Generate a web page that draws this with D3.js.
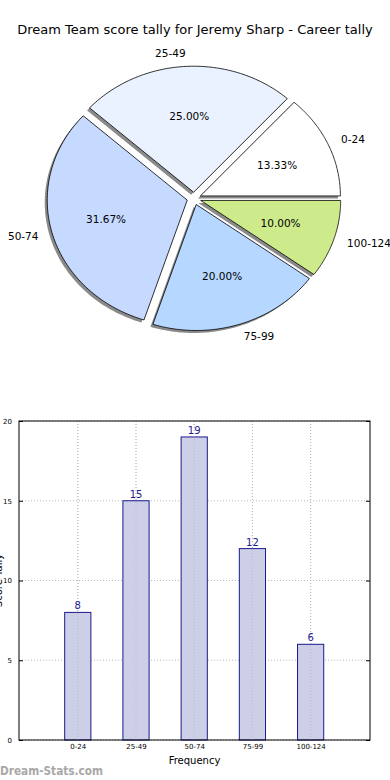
<!DOCTYPE html>
<html><head><meta charset="utf-8">
<script src="https://cdn.jsdelivr.net/npm/d3@7"></script>
<style>body{margin:0;background:#fff;}svg{display:block;font-family:"DejaVu Sans",sans-serif;}</style>
</head><body>
<svg id="c" width="390" height="780"></svg>
<script>
const title = "Dream Team score tally for Jeremy Sharp - Career tally";
const categories = ["0-24","25-49","50-74","75-99","100-124"];
const tallies = [8, 15, 19, 12, 6];
const pieColors = ["#ffffff","#eaf2ff","#c6d9ff","#b6d7ff","#ceeb8b"];
const yTicks = [0,5,10,15,20];
const xLabel = "Frequency";
const yLabel = "Score Tally";

const svg = d3.select("#c");
svg.append("text").attr("x",195).attr("y",34).attr("text-anchor","middle")
  .attr("font-size",13).attr("fill","#000").text(title);

// ---- Pie (matplotlib style, counter-clockwise from east, elliptical) ----
const cx = 194, cy = 198.5, rx = 140, ry = 126, explode = 0.05;
const total = d3.sum(tallies);
let acc = 0;
const slices = tallies.map((v,i)=>{ const a0 = acc/total*2*Math.PI; acc += v; const a1 = acc/total*2*Math.PI; return {i,v,a0,a1}; });
const sx = d3.scaleLinear().domain([-1,1]).range([cx-rx,cx+rx]);
const sy = d3.scaleLinear().domain([-1,1]).range([cy+ry,cy-ry]);
function wedgePath(s, dx, dy){
  const m = (s.a0+s.a1)/2;
  const ox = explode*Math.cos(m), oy = explode*Math.sin(m);
  const pts = [[ox,oy]];
  const n = 80;
  for(let k=0;k<=n;k++){ const a = s.a0+(s.a1-s.a0)*k/n; pts.push([ox+Math.cos(a), oy+Math.sin(a)]); }
  return "M" + pts.map(p=>[sx(p[0])+dx, sy(p[1])+dy].join(",")).join("L") + "Z";
}
const pie = svg.append("g");
pie.selectAll("path.shadow").data(slices).join("path").attr("class","shadow")
  .attr("d",d=>wedgePath(d,-2.5,2.5)).attr("fill","#8a8a8a");
pie.selectAll("path.w").data(slices).join("path").attr("class","w")
  .attr("d",d=>wedgePath(d,0,0)).attr("fill",d=>pieColors[d.i])
  .attr("stroke","#000").attr("stroke-width",0.8);
pie.selectAll("text.lab").data(slices).join("text").attr("class","lab")
  .each(function(d){
    const m=(d.a0+d.a1)/2, ox=explode*Math.cos(m), oy=explode*Math.sin(m);
    const x = ox+1.1*Math.cos(m), y = oy+1.1*Math.sin(m);
    d3.select(this).attr("x",sx(x)).attr("y",sy(y)).attr("dy","0.35em")
      .attr("text-anchor", x>0?"start":"end");
  }).attr("font-size",10.5).text(d=>categories[d.i]);
pie.selectAll("text.pct").data(slices).join("text").attr("class","pct")
  .each(function(d){
    const m=(d.a0+d.a1)/2, ox=explode*Math.cos(m), oy=explode*Math.sin(m);
    d3.select(this).attr("x",sx(ox+0.6*Math.cos(m))).attr("y",sy(oy+0.6*Math.sin(m))).attr("dy","0.35em");
  }).attr("text-anchor","middle").attr("font-size",10.5)
  .text(d=>(d.v/total*100).toFixed(2)+"%");

// ---- Bar chart ----
const L=19, R=370, T=421, B=740;
const x = d3.scaleLinear().domain([-1.01,5.02]).range([L,R]);
const y = d3.scaleLinear().domain([0,20]).range([B,T]);
const g = svg.append("g");
g.selectAll("line.gy").data(yTicks).join("line").attr("class","gy")
  .attr("x1",L).attr("x2",R).attr("y1",d=>y(d)).attr("y2",d=>y(d))
  .attr("stroke","#b8b8b8").attr("stroke-dasharray","1,2");
g.selectAll("line.gx").data(categories).join("line").attr("class","gx")
  .attr("x1",(d,i)=>x(i)).attr("x2",(d,i)=>x(i)).attr("y1",T).attr("y2",B)
  .attr("stroke","#b8b8b8").attr("stroke-dasharray","1,2");
const bw = x(0.45)-x(0);
g.selectAll("rect.bar").data(tallies).join("rect").attr("class","bar")
  .attr("x",(d,i)=>x(i)-bw/2).attr("width",bw)
  .attr("y",d=>y(d)).attr("height",d=>B-y(d))
  .attr("fill","#cdcfe6").attr("stroke","#1a1a8f").attr("stroke-width",1);
g.selectAll("line.gx2").data(categories).join("line").attr("class","gx2")
  .attr("x1",(d,i)=>x(i)).attr("x2",(d,i)=>x(i)).attr("y1",T).attr("y2",B)
  .attr("stroke","#b8b8c8").attr("stroke-dasharray","1,2").attr("opacity",0.8);
g.selectAll("text.val").data(tallies).join("text").attr("class","val")
  .attr("x",(d,i)=>x(i)).attr("y",d=>y(d)-3).attr("text-anchor","middle")
  .attr("font-size",10).attr("fill","#1a1a8f").text(d=>d);
const yAxis = d3.axisLeft(y).tickValues(yTicks).tickSize(4).tickPadding(3);
const ya = g.append("g").attr("transform",`translate(${L},0)`).call(yAxis);
ya.selectAll("text").attr("font-size",7).attr("font-family","DejaVu Sans").attr("fill","#000");
ya.selectAll("line").attr("x2",4).attr("stroke","#000");
ya.select(".domain").remove();
const ra = g.append("g").attr("transform",`translate(${R},0)`).call(d3.axisLeft(y).tickValues(yTicks).tickSize(4).tickFormat(""));
ra.select(".domain").remove();
ra.selectAll("line").attr("stroke","#000");
const xAxis = d3.axisBottom(x).tickValues(d3.range(categories.length)).tickFormat(i=>categories[i]).tickSize(0).tickPadding(4);
const xa = g.append("g").attr("transform",`translate(0,${B})`).call(xAxis);
xa.select(".domain").remove();
xa.selectAll("text").attr("font-size",7).attr("font-family","DejaVu Sans").attr("fill","#000");
g.append("rect").attr("x",L).attr("y",T).attr("width",R-L).attr("height",B-T)
  .attr("fill","none").attr("stroke","#000").attr("stroke-width",1);
svg.append("text").attr("x",(L+R)/2).attr("y",764).attr("text-anchor","middle")
  .attr("font-size",10).text(xLabel);
svg.append("text").attr("transform",`translate(2,${(T+B)/2}) rotate(-90)`)
  .attr("text-anchor","middle").attr("font-size",10).text(yLabel);
svg.append("text").attr("x",0).attr("y",775).attr("font-size",12).attr("font-weight","bold")
  .attr("textLength",103).attr("lengthAdjust","spacingAndGlyphs")
  .attr("fill","#a8a8a8").text("Dream-Stats.com");
</script>
</body></html>
